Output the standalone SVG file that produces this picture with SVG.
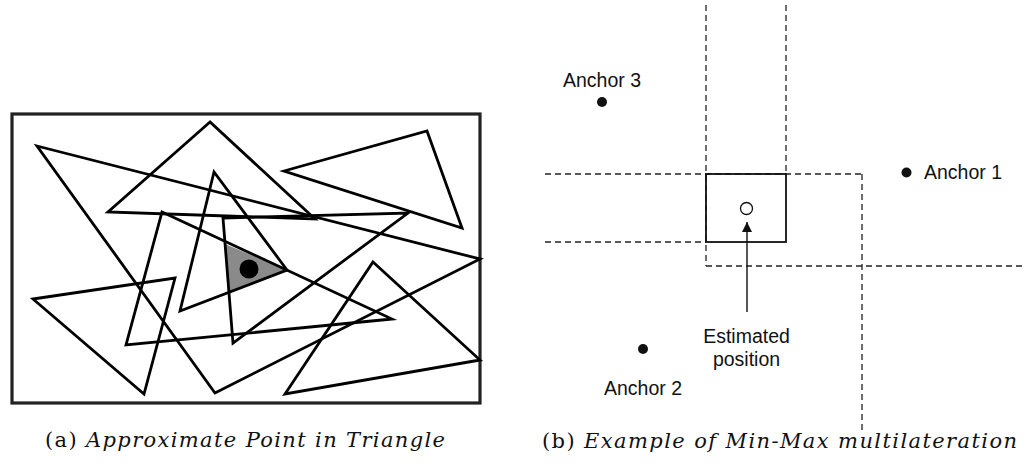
<svg xmlns="http://www.w3.org/2000/svg" width="1024" height="465" viewBox="0 0 1024 465">
<style>
.tri{fill:none;stroke:#000;stroke-width:2.8;stroke-linejoin:miter}
.dash{fill:none;stroke:#222;stroke-width:1.3;stroke-dasharray:6 4}
.lbl{font-family:"Liberation Sans",Arial,sans-serif;font-size:19.5px;fill:#111}
.cap{font-family:"DejaVu Serif","Liberation Serif",serif;font-size:21px;fill:#111}
</style>
<defs>
<marker id="arr" markerWidth="10" markerHeight="10" refX="10" refY="5" orient="auto" markerUnits="userSpaceOnUse">
<path d="M0,0 L10,5 L0,10 Z" fill="#111"/>
</marker>
</defs>
<rect width="1024" height="465" fill="#fff"/>

<g id="panel-a">
<rect x="12" y="114" width="468" height="289" fill="none" stroke="#222" stroke-width="3.2"/>
<polygon points="225,244 287,270 228,293" fill="#8a8a8a"/>
<polygon class="tri" points="37,146 480,259 215,393"/>
<polygon class="tri" points="210,122 108,212 315,219"/>
<polygon class="tri" points="284,171 427,131 462,228"/>
<polygon class="tri" points="214,172 180,311 287,270"/>
<polygon class="tri" points="162,212 392,319 126,345"/>
<polygon class="tri" points="223,218 408,213 233,343"/>
<polygon class="tri" points="33,299 175,278 144,394"/>
<polygon class="tri" points="373,262 480,360 285,394"/>
<circle cx="249" cy="269" r="9.5" fill="#000"/>
</g>

<g id="bounds">
<line class="dash" x1="706" y1="5" x2="706" y2="266"/>
<line class="dash" x1="786" y1="5" x2="786" y2="174"/>
<line class="dash" x1="545" y1="174" x2="862" y2="174"/>
<line class="dash" x1="545" y1="242" x2="706" y2="242"/>
<line class="dash" x1="862" y1="174" x2="862" y2="433"/>
<line class="dash" x1="706" y1="266" x2="1024" y2="266"/>
</g>

<g id="estimate-box">
<rect x="706" y="174" width="80" height="68" fill="none" stroke="#111" stroke-width="1.8"/>
<circle cx="746.5" cy="208.5" r="6" fill="#fff" stroke="#111" stroke-width="1.3"/>
</g>

<g id="anchor1">
<circle cx="906.5" cy="172.5" r="5" fill="#111"/>
<text class="lbl" x="924" y="179">Anchor 1</text>
</g>
<g id="anchor2">
<circle cx="643" cy="349" r="5" fill="#111"/>
<text class="lbl" x="643" y="395" text-anchor="middle">Anchor 2</text>
</g>
<g id="anchor3">
<circle cx="602" cy="102" r="5" fill="#111"/>
<text class="lbl" x="602" y="87" text-anchor="middle">Anchor 3</text>
</g>
<g id="estimated-label">
<text class="lbl" x="746.5" y="343" text-anchor="middle">Estimated</text>
<text class="lbl" x="746.5" y="366" text-anchor="middle">position</text>
</g>

<g id="connectors">
<line x1="747" y1="312" x2="747" y2="222" stroke="#111" stroke-width="1.4" marker-end="url(#arr)"/>
</g>

<g id="captions">
<text class="cap" x="45" y="447" textLength="400" lengthAdjust="spacing">(a) <tspan font-style="italic">Approximate Point in Triangle</tspan></text>
<text class="cap" x="542" y="448" textLength="475" lengthAdjust="spacing">(b) <tspan font-style="italic">Example of Min-Max multilateration</tspan></text>
</g>
</svg>
